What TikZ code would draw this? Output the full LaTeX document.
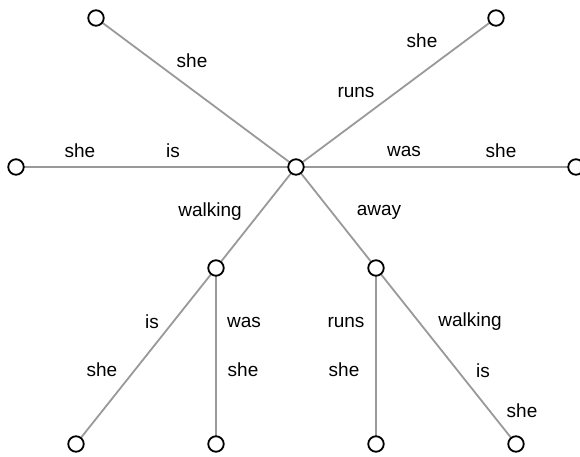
\documentclass[tikz,border=0pt]{standalone}
\usepackage{fontspec}
\setmainfont{Liberation Sans}
\begin{document}
\begin{tikzpicture}[x=1pt,y=-1pt,
  vtx/.style={circle,draw=black,line width=1.8pt,fill=white,minimum size=15.5pt,inner sep=0pt},
  edge/.style={draw=black!40,line width=1.8pt},
  lbl/.style={font=\fontsize{19}{22}\selectfont,inner sep=0pt,anchor=center}]
\useasboundingbox (0,0) rectangle (580,457);
\coordinate (c) at (296,167);
\coordinate (tl) at (96,18);
\coordinate (tr) at (496,18);
\coordinate (l) at (16,167);
\coordinate (r) at (576,167);
\coordinate (ja) at (216,268);
\coordinate (jb) at (376,268);
\coordinate (b1) at (76,444);
\coordinate (b2) at (216,444);
\coordinate (b3) at (376,444);
\coordinate (b4) at (516,444);
\draw[edge] (c) -- (tl);
\draw[edge] (c) -- (tr);
\draw[edge] (c) -- (l);
\draw[edge] (c) -- (r);
\draw[edge] (c) -- (ja);
\draw[edge] (c) -- (jb);
\draw[edge] (ja) -- (b1);
\draw[edge] (ja) -- (b2);
\draw[edge] (jb) -- (b3);
\draw[edge] (jb) -- (b4);
\foreach \n in {c,tl,tr,l,r,ja,jb,b1,b2,b3,b4} \node[vtx] (n\n) at (\n) {};
\node[lbl] (t1) at (192,61) {she};
\node[lbl] (t2) at (422,41) {she};
\node[lbl] (t3) at (356,92) {runs};
\node[lbl] (t4) at (80,151) {she};
\node[lbl] (t5) at (173,151) {is};
\node[lbl] (t6) at (404,151) {was};
\node[lbl] (t7) at (501,151) {she};
\node[lbl] (t8) at (210,212) {walking};
\node[lbl] (t9) at (379,212) {away};
\node[lbl] (t10) at (152,322) {is};
\node[lbl] (t11) at (244,322) {was};
\node[lbl] (t12) at (346,322) {runs};
\node[lbl] (t13) at (470,322) {walking};
\node[lbl] (t14) at (102,370) {she};
\node[lbl] (t15) at (243,370) {she};
\node[lbl] (t16) at (344,370) {she};
\node[lbl] (t17) at (483,371) {is};
\node[lbl] (t18) at (522,411) {she};
\end{tikzpicture}
\end{document}
